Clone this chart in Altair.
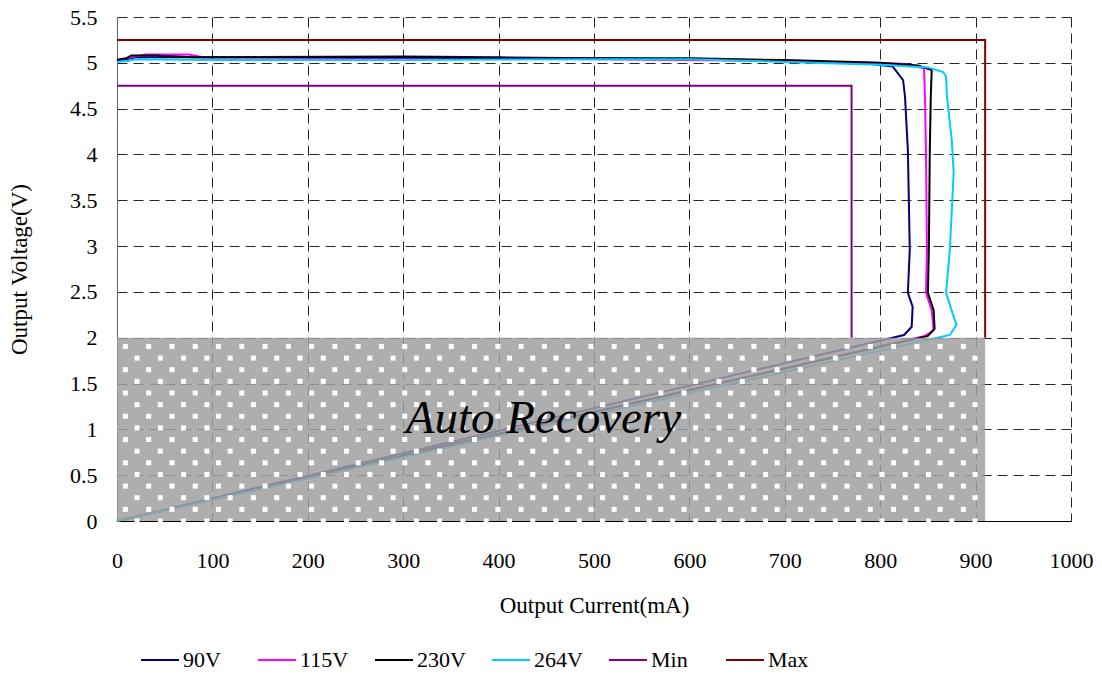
import altair as alt
import pandas as pd

# ---------------- data ----------------
SERIES = ["90V", "115V", "230V", "264V", "Min", "Max"]
COLORS = ["#000080", "#FF00FF", "#000000", "#00CCFF", "#800080", "#800000"]

I_90 = [0, 10, 20, 100, 300, 400, 500, 600, 700, 780, 813, 824, 826, 829, 831, 829, 834, 833, 825, 0]
V_90 = [5.03, 5.04, 5.06, 5.06, 5.07, 5.06, 5.05, 5.04, 5.02, 5.00, 4.96, 4.81, 4.63, 4.05, 2.96, 2.49, 2.34, 2.12, 2.03, 0]

I_115 = [0, 15, 30, 75, 90, 300, 500, 700, 790, 823, 846, 847, 848, 849, 848, 854, 856, 847, 0]
V_115 = [5.03, 5.06, 5.09, 5.09, 5.06, 5.05, 5.04, 5.02, 5.00, 4.99, 4.94, 4.60, 4.00, 2.96, 2.49, 2.30, 2.08, 2.02, 0]

I_230 = [0, 10, 15, 40, 80, 300, 400, 600, 700, 800, 840, 854, 853, 852, 851, 850, 856, 857, 850, 0]
V_230 = [5.03, 5.05, 5.08, 5.08, 5.06, 5.06, 5.05, 5.05, 5.03, 5.00, 4.97, 4.92, 4.63, 4.05, 2.96, 2.49, 2.30, 2.10, 2.02, 0]

I_264 = [0, 10, 20, 100, 300, 500, 600, 700, 800, 850, 866, 869, 870, 875, 877, 873, 869, 877, 880, 873, 0]
V_264 = [5.01, 5.02, 5.04, 5.03, 5.03, 5.04, 5.04, 5.01, 4.98, 4.95, 4.90, 4.85, 4.63, 4.16, 3.80, 2.96, 2.49, 2.23, 2.14, 2.03, 0]

I_MIN = [0, 770, 770]
V_MIN = [4.75, 4.75, 2.0]
I_MAX = [0, 910, 910]
V_MAX = [5.25, 5.25, 2.0]

REGION_I = [0, 910]
REGION_V = [0, 2.0]
REGION_LABEL = "Auto Recovery"
LABEL_I = 447
LABEL_V = 0.96

X_TICKS = list(range(0, 1001, 100))
Y_TICKS = [0, 0.5, 1, 1.5, 2, 2.5, 3, 3.5, 4, 4.5, 5, 5.5]

# decorative texture of the recovery region
PAT_DX = 24.4
PAT_DY = 0.127
PAT_ROWS = 16
PAT_X0_EVEN = 21.0
PAT_X0_ODD = 8.8

# ---------------- build tables ----------------
rows = []
for name, xs, ys in [("90V", I_90, V_90), ("115V", I_115, V_115), ("230V", I_230, V_230),
                     ("264V", I_264, V_264), ("Min", I_MIN, V_MIN), ("Max", I_MAX, V_MAX)]:
    for k, (x, y) in enumerate(zip(xs, ys)):
        rows.append({"series": name, "current": x, "voltage": y, "order": k})
df = pd.DataFrame(rows)

region_df = pd.DataFrame({"current": [REGION_I[0]], "current2": [REGION_I[1]],
                          "voltage": [REGION_V[0]], "voltage2": [REGION_V[1]]})

pat = []
for r in range(PAT_ROWS):
    y = r * PAT_DY
    x = PAT_X0_EVEN if r % 2 == 0 else PAT_X0_ODD
    while x < REGION_I[1]:
        pat.append({"current": x, "voltage": y})
        x += PAT_DX
pat_df = pd.DataFrame(pat)

label_df = pd.DataFrame({"current": [LABEL_I], "voltage": [LABEL_V], "text": [REGION_LABEL]})

FONT = "Liberation Serif"

xscale = alt.Scale(domain=[0, 1000], nice=False, zero=False)
yscale = alt.Scale(domain=[0, 5.5], nice=False, zero=False)

xaxis = alt.Axis(values=X_TICKS, format="d", title="Output Current(mA)", grid=True, gridDash=[10, 6],
                 gridColor="#000000", gridOpacity=0.85, ticks=False, labelPadding=29,
                 labelFont=FONT, labelFontSize=22, labelColor="#000", titleFont=FONT,
                 titleFontSize=23, titleFontWeight="normal", titleColor="#000", titlePadding=23,
                 domainColor="#000", labelFlush=False)
yaxis = alt.Axis(values=Y_TICKS, title="Output Voltage(V)", format="~g", grid=True,
                 gridDash=[10, 6], gridColor="#000000", gridOpacity=0.85, ticks=False,
                 labelPadding=20, labelFont=FONT, labelFontSize=22, labelColor="#000",
                 titleFont=FONT, titleFontSize=23, titleFontWeight="normal", titleColor="#000",
                 titlePadding=38, domainColor="#666", labelFlush=False)

lines = alt.Chart(df).mark_line(strokeWidth=2, clip=False).encode(
    x=alt.X("current:Q", scale=xscale, axis=xaxis),
    y=alt.Y("voltage:Q", scale=yscale, axis=yaxis),
    color=alt.Color("series:N", scale=alt.Scale(domain=SERIES, range=COLORS),
                    legend=alt.Legend(title=None, orient="none", legendX=23, legendY=623,
                                      direction="horizontal", symbolType="stroke",
                                      symbolSize=1444, symbolStrokeWidth=2,
                                      labelFont=FONT, labelFontSize=22, labelColor="#000",
                                      labelOffset=3, columnPadding=22, gridAlign="all")),
    order="order:Q",
)

region = alt.Chart(region_df).mark_rect(color="#A0A0A0", opacity=0.85).encode(
    x="current:Q", x2="current2", y="voltage:Q", y2="voltage2"
)

texture = alt.Chart(pat_df).mark_square(color="#FFFFFF", opacity=1, size=25).encode(
    x="current:Q", y="voltage:Q"
)

label = alt.Chart(label_df).mark_text(font=FONT, fontStyle="italic", fontSize=47,
                                      baseline="alphabetic", align="center",
                                      color="#000").encode(
    x="current:Q", y="voltage:Q", text="text:N"
)

chart = alt.layer(lines, region, texture, label).properties(
    width=954, height=504,
    autosize=alt.AutoSizeParams(type="none"),
    padding={"left": 109, "top": 9, "right": 23, "bottom": 150},
    background="white",
).configure_view(stroke=None).configure_legend(
    labelFont=FONT, labelFontSize=22, labelColor="#000"
)

chart.save("out.html", embed_options={"renderer": "svg", "actions": False})
